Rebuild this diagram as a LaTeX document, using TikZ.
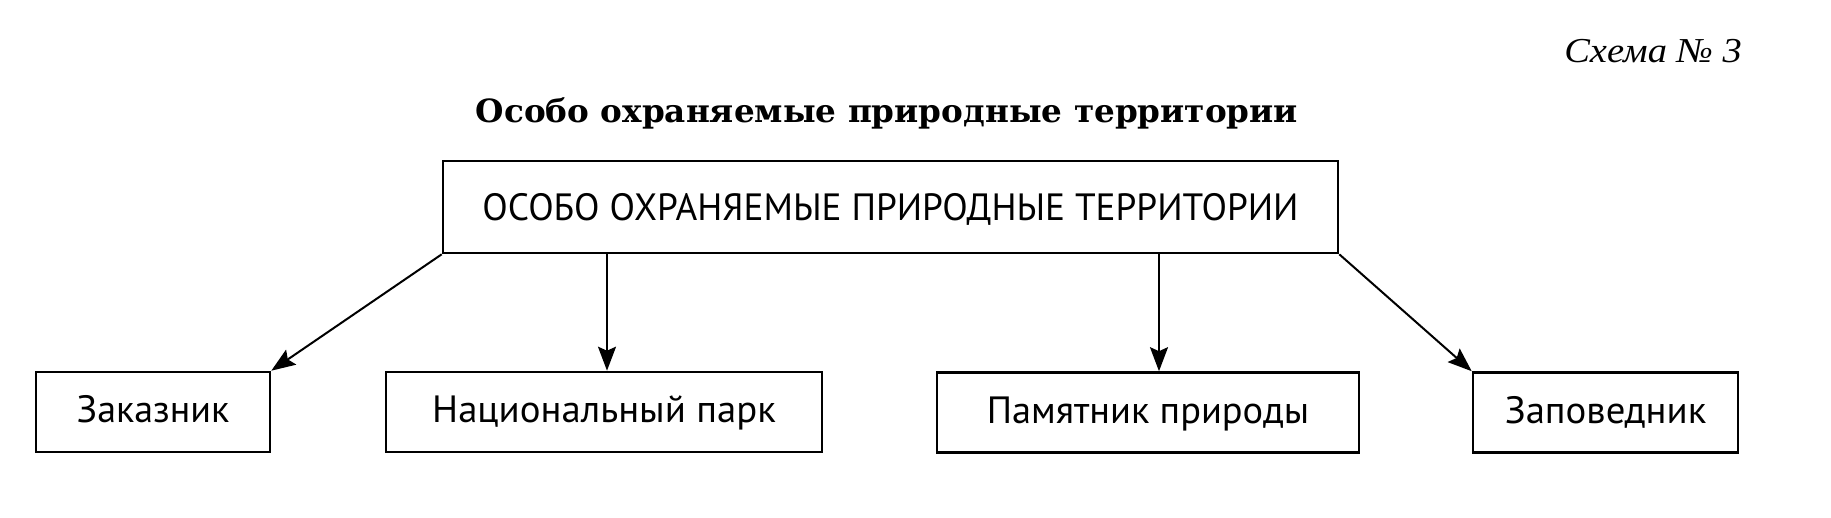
\documentclass[tikz,border=0pt]{standalone}
\usepackage{fontspec}
\setmainfont{PT Sans}
\newfontfamily\titlefont{DejaVu Serif}
\newfontfamily\capfont{Liberation Serif}
\usetikzlibrary{arrows.meta}
\tikzset{
  box/.style={draw, line width=2.6pt, inner sep=0pt, rectangle, font=\fontsize{38}{40}\selectfont},
  lowbox/.style={box, minimum height=80pt, text height=27pt, text depth=6pt},
  arr/.style={line width=2pt, -{Stealth[length=24pt, width=18pt, inset=4pt]}}
}
\begin{document}
\begin{tikzpicture}[x=1pt, y=-1pt]
\useasboundingbox (0,0) rectangle (1831,517);
\node[anchor=base east, inner sep=0pt, font=\capfont\itshape\fontsize{35}{37}\selectfont] (cap) at (1742,62) {\scalebox{1.1}[1]{Схема №~3}};
\node[anchor=base, inner sep=0pt, font=\titlefont\bfseries\fontsize{32}{34}\selectfont] (title) at (887,122) {\scalebox{1.02}[1]{Особо охраняемые природные территории}};
\node[box, minimum width=895pt, minimum height=92pt, text height=27pt, text depth=0pt] (top) at (890.5,207) {\scalebox{0.98}[1]{ОСОБО ОХРАНЯЕМЫЕ ПРИРОДНЫЕ ТЕРРИТОРИИ}};
\node[lowbox, minimum width=234pt] (b1) at (153,412) {Заказник};
\node[lowbox, minimum width=436pt] (b2) at (604,412) {\scalebox{1.02}[1]{Национальный парк}};
\node[lowbox, minimum width=422pt] (b3) at (1148,412.5) {\scalebox{1.01}[1]{Памятник природы}};
\node[lowbox, minimum width=265pt] (b4) at (1605.5,412.5) {\scalebox{1.02}[1]{Заповедник}};
\coordinate (c2) at (607,0);
\coordinate (c3) at (1159,0);
\draw[arr] (top.south west) -- (b1.north east);
\draw[arr] (top.south -| c2) -- (b2.north -| c2);
\draw[arr] (top.south -| c3) -- (b3.north -| c3);
\draw[arr] (top.south east) -- (b4.north west);
\end{tikzpicture}
\end{document}
